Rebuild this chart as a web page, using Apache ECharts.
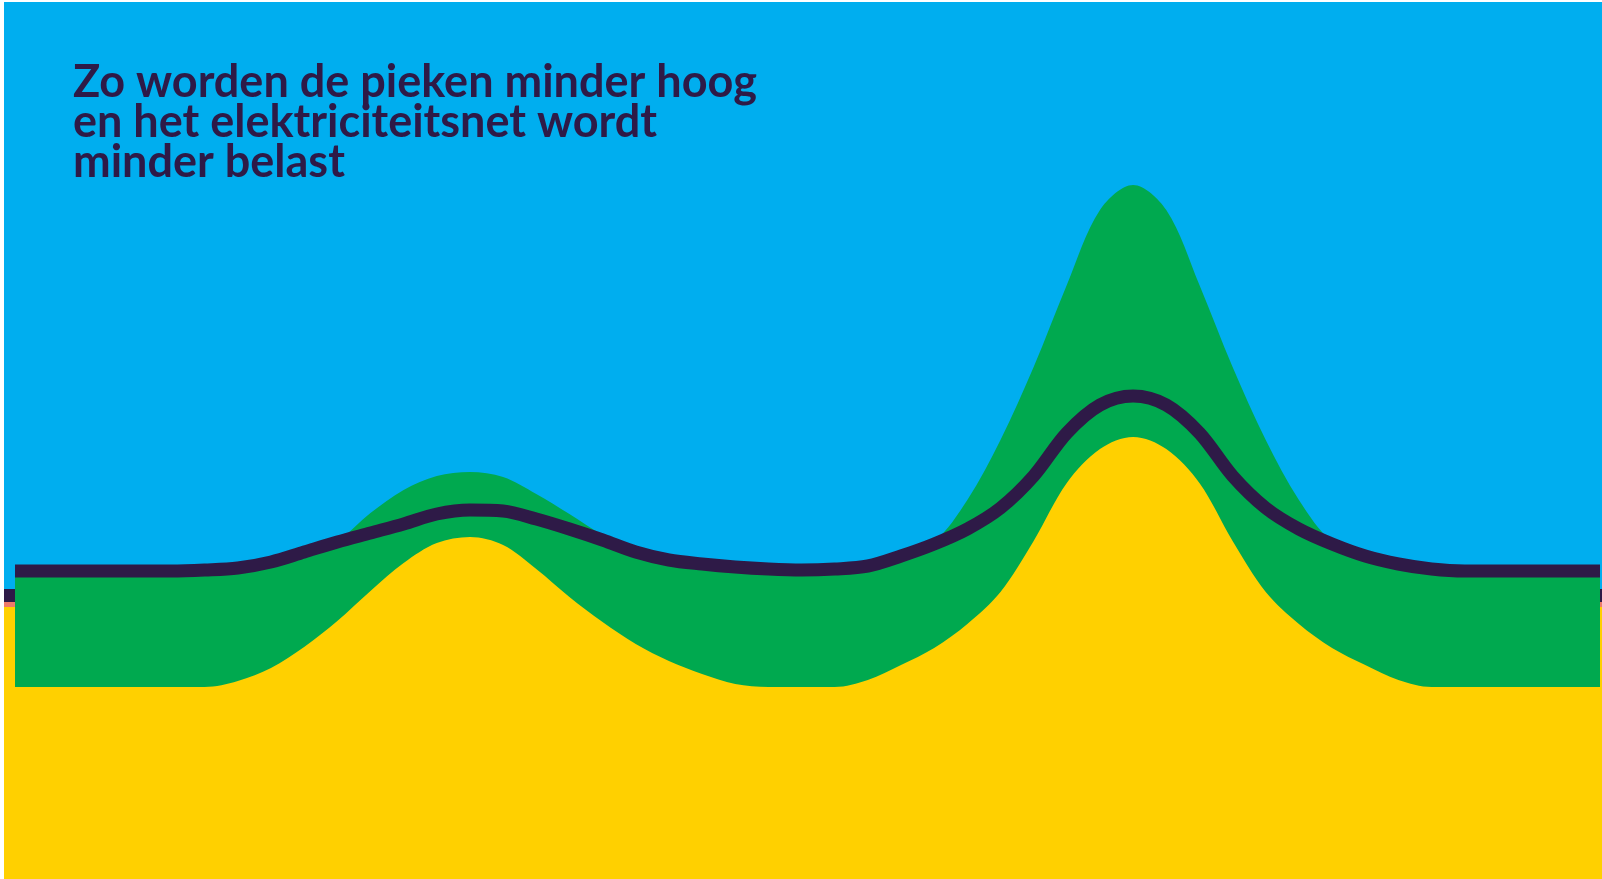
<!DOCTYPE html>
<html>
<head>
<meta charset="utf-8">
<script src="https://cdn.jsdelivr.net/npm/echarts@6/dist/echarts.min.js"></script>
<style>
html,body{margin:0;padding:0;background:#fff;}
#c{width:1602px;height:879px;}
</style>
</head>
<body>
<div id="c"></div>
<script>
// Title lines
const titleLines = ['Zo worden de pieken minder hoog', 'en het elektriciteitsnet wordt', 'minder belast'];

// Hours of the day (half-hour steps; first/last at the visible edges)
const hours = [0.14, 0.5, 1, 1.5, 2, 2.5, 3, 3.5, 4, 4.5, 5, 5.5, 6, 6.5, 7, 7.5, 8, 8.5, 9, 9.5, 10, 10.5, 11, 11.5, 12,
               12.5, 13, 13.5, 14, 14.5, 15, 15.5, 16, 16.5, 17, 17.5, 18, 18.5, 19, 19.5, 20, 20.5, 21, 21.5, 22, 22.5, 23, 23.5, 24, 24.04];

// Base load (yellow)
const baseLoad = [192, 192, 192, 192, 192, 192, 192, 198, 211, 232, 258, 288, 316, 336, 342, 334, 310, 282, 257, 235, 218, 205, 195, 192, 192,
                  192, 199, 214, 231, 255, 287, 338, 396, 430, 442, 430, 396, 338, 287, 255, 231, 214, 199, 192, 192, 192, 192, 192, 192, 192];

// Peak load without smart charging (green)
const peakLoad = [308, 308, 308, 308, 308, 308, 309, 311, 317, 327, 338, 366, 389, 403, 407, 402, 385, 365, 344, 327, 319, 315, 312, 310, 309,
                  310, 313, 323, 337, 379, 439, 512, 594, 669, 694, 669, 594, 512, 439, 379, 337, 323, 315, 310, 308, 308, 308, 308, 308, 308];

// Load with smart charging (navy line)
const smartLoad = [308, 308, 308, 308, 308, 308, 309, 311, 317, 327, 337, 346, 355, 365, 369, 368, 360, 350, 339, 327, 319, 315, 312, 310, 309,
                   310, 313, 323, 335, 350, 371, 403, 446, 474, 483, 474, 446, 403, 371, 350, 335, 323, 315, 310, 308, 308, 308, 308, 308, 308];

const zip = (xs, ys) => xs.map((x, i) => [x, ys[i]]);

const BLUE = '#00AEEF', GREEN = '#00A94F', YELLOW = '#FFD000', NAVY = '#2E1A47', PINK = '#EF7A6A';

const chart = echarts.init(document.getElementById('c'), null, {renderer: 'canvas'});
const sideStrip = (x, w) => ([
  {type: 'rect', shape: {x: x, y: 589, width: w, height: 13}, style: {fill: NAVY}, z: 1},
  {type: 'rect', shape: {x: x, y: 602, width: w, height: 5}, style: {fill: PINK}, z: 1},
  {type: 'rect', shape: {x: x, y: 607, width: w, height: 272}, style: {fill: YELLOW}, z: 1}
]);
chart.setOption({
  backgroundColor: BLUE,
  animation: false,
  title: {
    text: titleLines.join('\n'),
    left: 68, top: 57,
    textStyle: {color: NAVY, fontFamily: 'Lato', fontWeight: 'bold', fontSize: 45, lineHeight: 40}
  },
  grid: {left: 15, right: 2, top: 0, bottom: 0},
  xAxis: {type: 'value', min: 0.14, max: 24.04, show: false},
  yAxis: {type: 'value', min: 0, max: 879, show: false},
  graphic: [
    ...sideStrip(4, 11),
    ...sideStrip(1600, 2),
    {type: 'rect', shape: {x: 0, y: 0, width: 4, height: 879}, style: {fill: '#fff'}, z: 100},
    {type: 'rect', shape: {x: 0, y: 0, width: 1602, height: 2}, style: {fill: '#fff'}, z: 100}
  ],
  series: [
    {type: 'line', name: 'piek', data: zip(hours, peakLoad), smooth: 0.33, symbol: 'none',
     lineStyle: {width: 0}, areaStyle: {color: GREEN, opacity: 1}, z: 2},
    {type: 'line', name: 'basis', data: zip(hours, baseLoad), smooth: 0.33, symbol: 'none',
     lineStyle: {width: 0}, areaStyle: {color: YELLOW, opacity: 1}, z: 3},
    {type: 'line', name: 'slim laden', data: zip(hours, smartLoad), smooth: 0.33, symbol: 'none',
     lineStyle: {width: 13, color: NAVY, cap: 'butt'}, z: 4}
  ]
});
</script>
</body>
</html>
